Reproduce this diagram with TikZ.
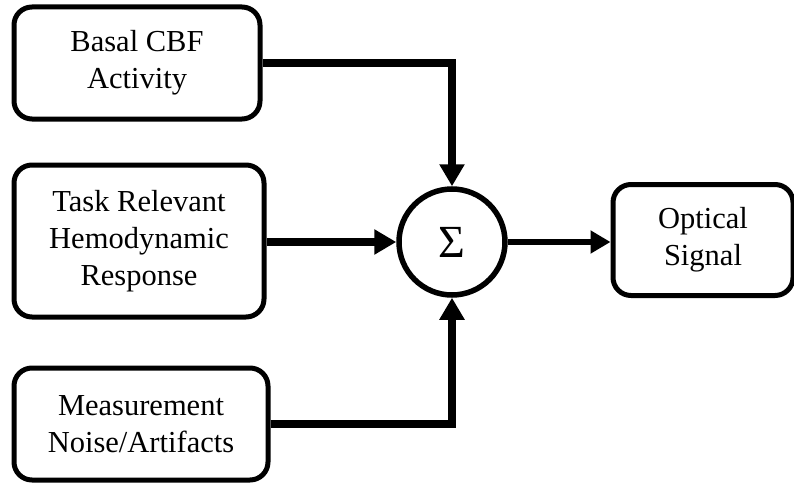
\documentclass[tikz,border=0pt]{standalone}
\usepackage{fontspec}
\setmainfont{Liberation Serif}
\usetikzlibrary{arrows.meta}
\begin{document}
\begin{tikzpicture}[x=1pt,y=-1pt,
  blk/.style={draw, line width=5pt, rounded corners=18pt, align=center, font=\fontsize{30.5}{37}\selectfont, inner sep=0pt},
  inarrow/.style={line width=8pt, -{Triangle[length=22pt,width=24pt]}},
  outarrow/.style={line width=5.5pt, -{Triangle[length=20pt,width=22pt]}}]
\useasboundingbox (0,0) rectangle (794,484);
\node[blk, minimum width=246pt, minimum height=112pt] (b1) at (137,63) {Basal CBF\\Activity};
\node[blk, minimum width=250pt, minimum height=152pt] (b2) at (139,241) {Task Relevant\\Hemodynamic\\Response};
\node[blk, minimum width=254pt, minimum height=112pt] (b3) at (141,424) {Measurement\\Noise/Artifacts};
\node[draw, circle, line width=5.5pt, minimum size=106pt, inner sep=0pt, font=\fontsize{46}{46}\selectfont] (s) at (452,242) {Σ};
\node[blk, minimum width=180pt, minimum height=111pt] (o) at (703,240) {Optical\\Signal};
\draw[inarrow] (b1.east) -| (s.north);
\draw[inarrow] (b2.east |- s.west) -- (s.west);
\draw[inarrow] (b3.east) -| (s.south);
\draw[outarrow] (s.east) -- (o.west |- s.east);
\end{tikzpicture}
\end{document}
